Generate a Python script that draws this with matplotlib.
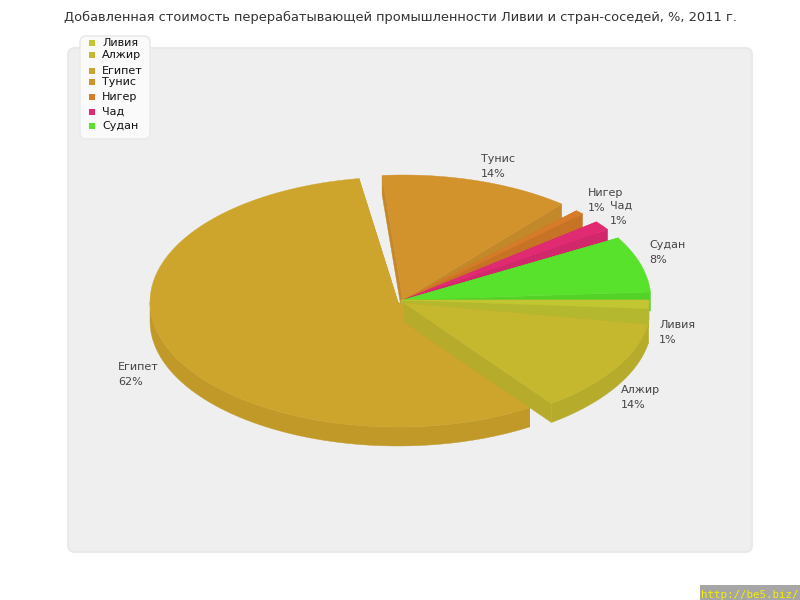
import numpy as np
from matplotlib import pyplot as plt
from matplotlib.patches import FancyBboxPatch, Polygon, Rectangle

title = "Добавленная стоимость перерабатывающей промышленности Ливии и стран-соседей, %, 2011 г."
names = ["Ливия", "Алжир", "Египет", "Тунис", "Нигер", "Чад", "Судан"]
pct_labels = ["1%", "14%", "62%", "14%", "1%", "1%", "8%"]
# drawn share of the circle (not the same as the printed %)
shares = [1.1, 12.1, 56.4, 12.4, 0.55, 1.2, 7.25]
gaps_after = [6, 4.4, 4.2, 4.6, 4.9, 4.6, 0]  # degrees of empty rim after each slice
colors = ["#C2C632", "#C5B82E", "#CEA52C", "#D2922C", "#D67C28", "#E02B72", "#59E22B"]

centers = [(401, 300), (404, 303), (398, 302), (403, 300), (403, 300), (403, 300), (403, 300)]
label_pos = [(659, 325), (621, 390), (118, 367), (481, 159), (588, 193), (610, 206), (649, 245)]
legend_y = [43, 55, 71, 82, 97, 112, 126]
draw_order = [3, 4, 5, 6, 0, 2, 1]

RX, RY = 248, 125
DEPTH = 19


def darker(color, k=0.93):
    r, g, b = plt.matplotlib.colors.to_rgb(color)
    return (r * k, g * k, b * k)


def rim(cx, cy, t0, t1, dy=0):
    t = np.radians(np.linspace(t0, t1, 120))
    return np.column_stack([cx + RX * np.cos(t), cy + dy + RY * np.sin(t)])


def draw_slice(ax, center, t0, t1, color):
    cx, cy = center
    side = darker(color)
    # radial faces, then outer wall, then the top
    for t in (t0, t1):
        a = np.radians(t)
        edge = (cx + RX * np.cos(a), cy + RY * np.sin(a))
        quad = [(cx, cy), edge, (edge[0], edge[1] + DEPTH), (cx, cy + DEPTH)]
        ax.add_patch(Polygon(quad, fc=side, ec=side, lw=0.3))
    lo, hi = max(t0, 0), min(t1, 180)
    if lo < hi:
        wall = np.vstack([rim(cx, cy, lo, hi), rim(cx, cy, hi, lo, DEPTH)])
        ax.add_patch(Polygon(wall, fc=side, ec=side, lw=0.3))
    top = np.vstack([[(cx, cy)], rim(cx, cy, t0, t1)])
    ax.add_patch(Polygon(top, fc=color, ec=color, lw=0.3))


fig = plt.figure(figsize=(8, 6), dpi=100)
ax = fig.add_axes([0, 0, 1, 1])
ax.set_xlim(0, 800)
ax.set_ylim(600, 0)
ax.axis("off")

ax.add_patch(FancyBboxPatch((72, 52), 676, 496, boxstyle="round,pad=4,rounding_size=7",
                            fc="#EFEFEF", ec="#E9E9E9", lw=1.5))

# slice angles run clockwise on screen, starting at 3 o'clock
starts, ends = [], []
angle = 0
for share, gap in zip(shares, gaps_after):
    starts.append(angle)
    angle += share * 3.6
    ends.append(angle)
    angle += gap

for i in draw_order:
    draw_slice(ax, centers[i], starts[i], ends[i], colors[i])

for i, name in enumerate(names):
    x, y = label_pos[i]
    ax.text(x, y, name, fontsize=8, color="#444444", ha="left", va="center")
    ax.text(x, y + 15, pct_labels[i], fontsize=8, color="#444444", ha="left", va="center")

ax.add_patch(FancyBboxPatch((84, 40), 62, 95, boxstyle="round,pad=4,rounding_size=6",
                            fc="#FAFAFA", ec="#E8E8E8", lw=1))
for i, name in enumerate(names):
    ax.add_patch(Rectangle((89, legend_y[i] - 3), 6, 6, fc=colors[i], ec="none"))
    ax.text(102, legend_y[i], name, fontsize=8, color="#111111", ha="left", va="center")

ax.text(400.5, 17.5, title, fontsize=9.4, color="#333333", ha="center", va="center")

ax.add_patch(Rectangle((700, 585), 100, 15, fc="#A6A6A6", ec="none"))
ax.text(700.5, 594.5, "http://be5.biz/", fontsize=7.8, color="#F5EE00", ha="left", va="center",
        family="DejaVu Sans Mono")

fig.savefig("out.png", dpi=100)
